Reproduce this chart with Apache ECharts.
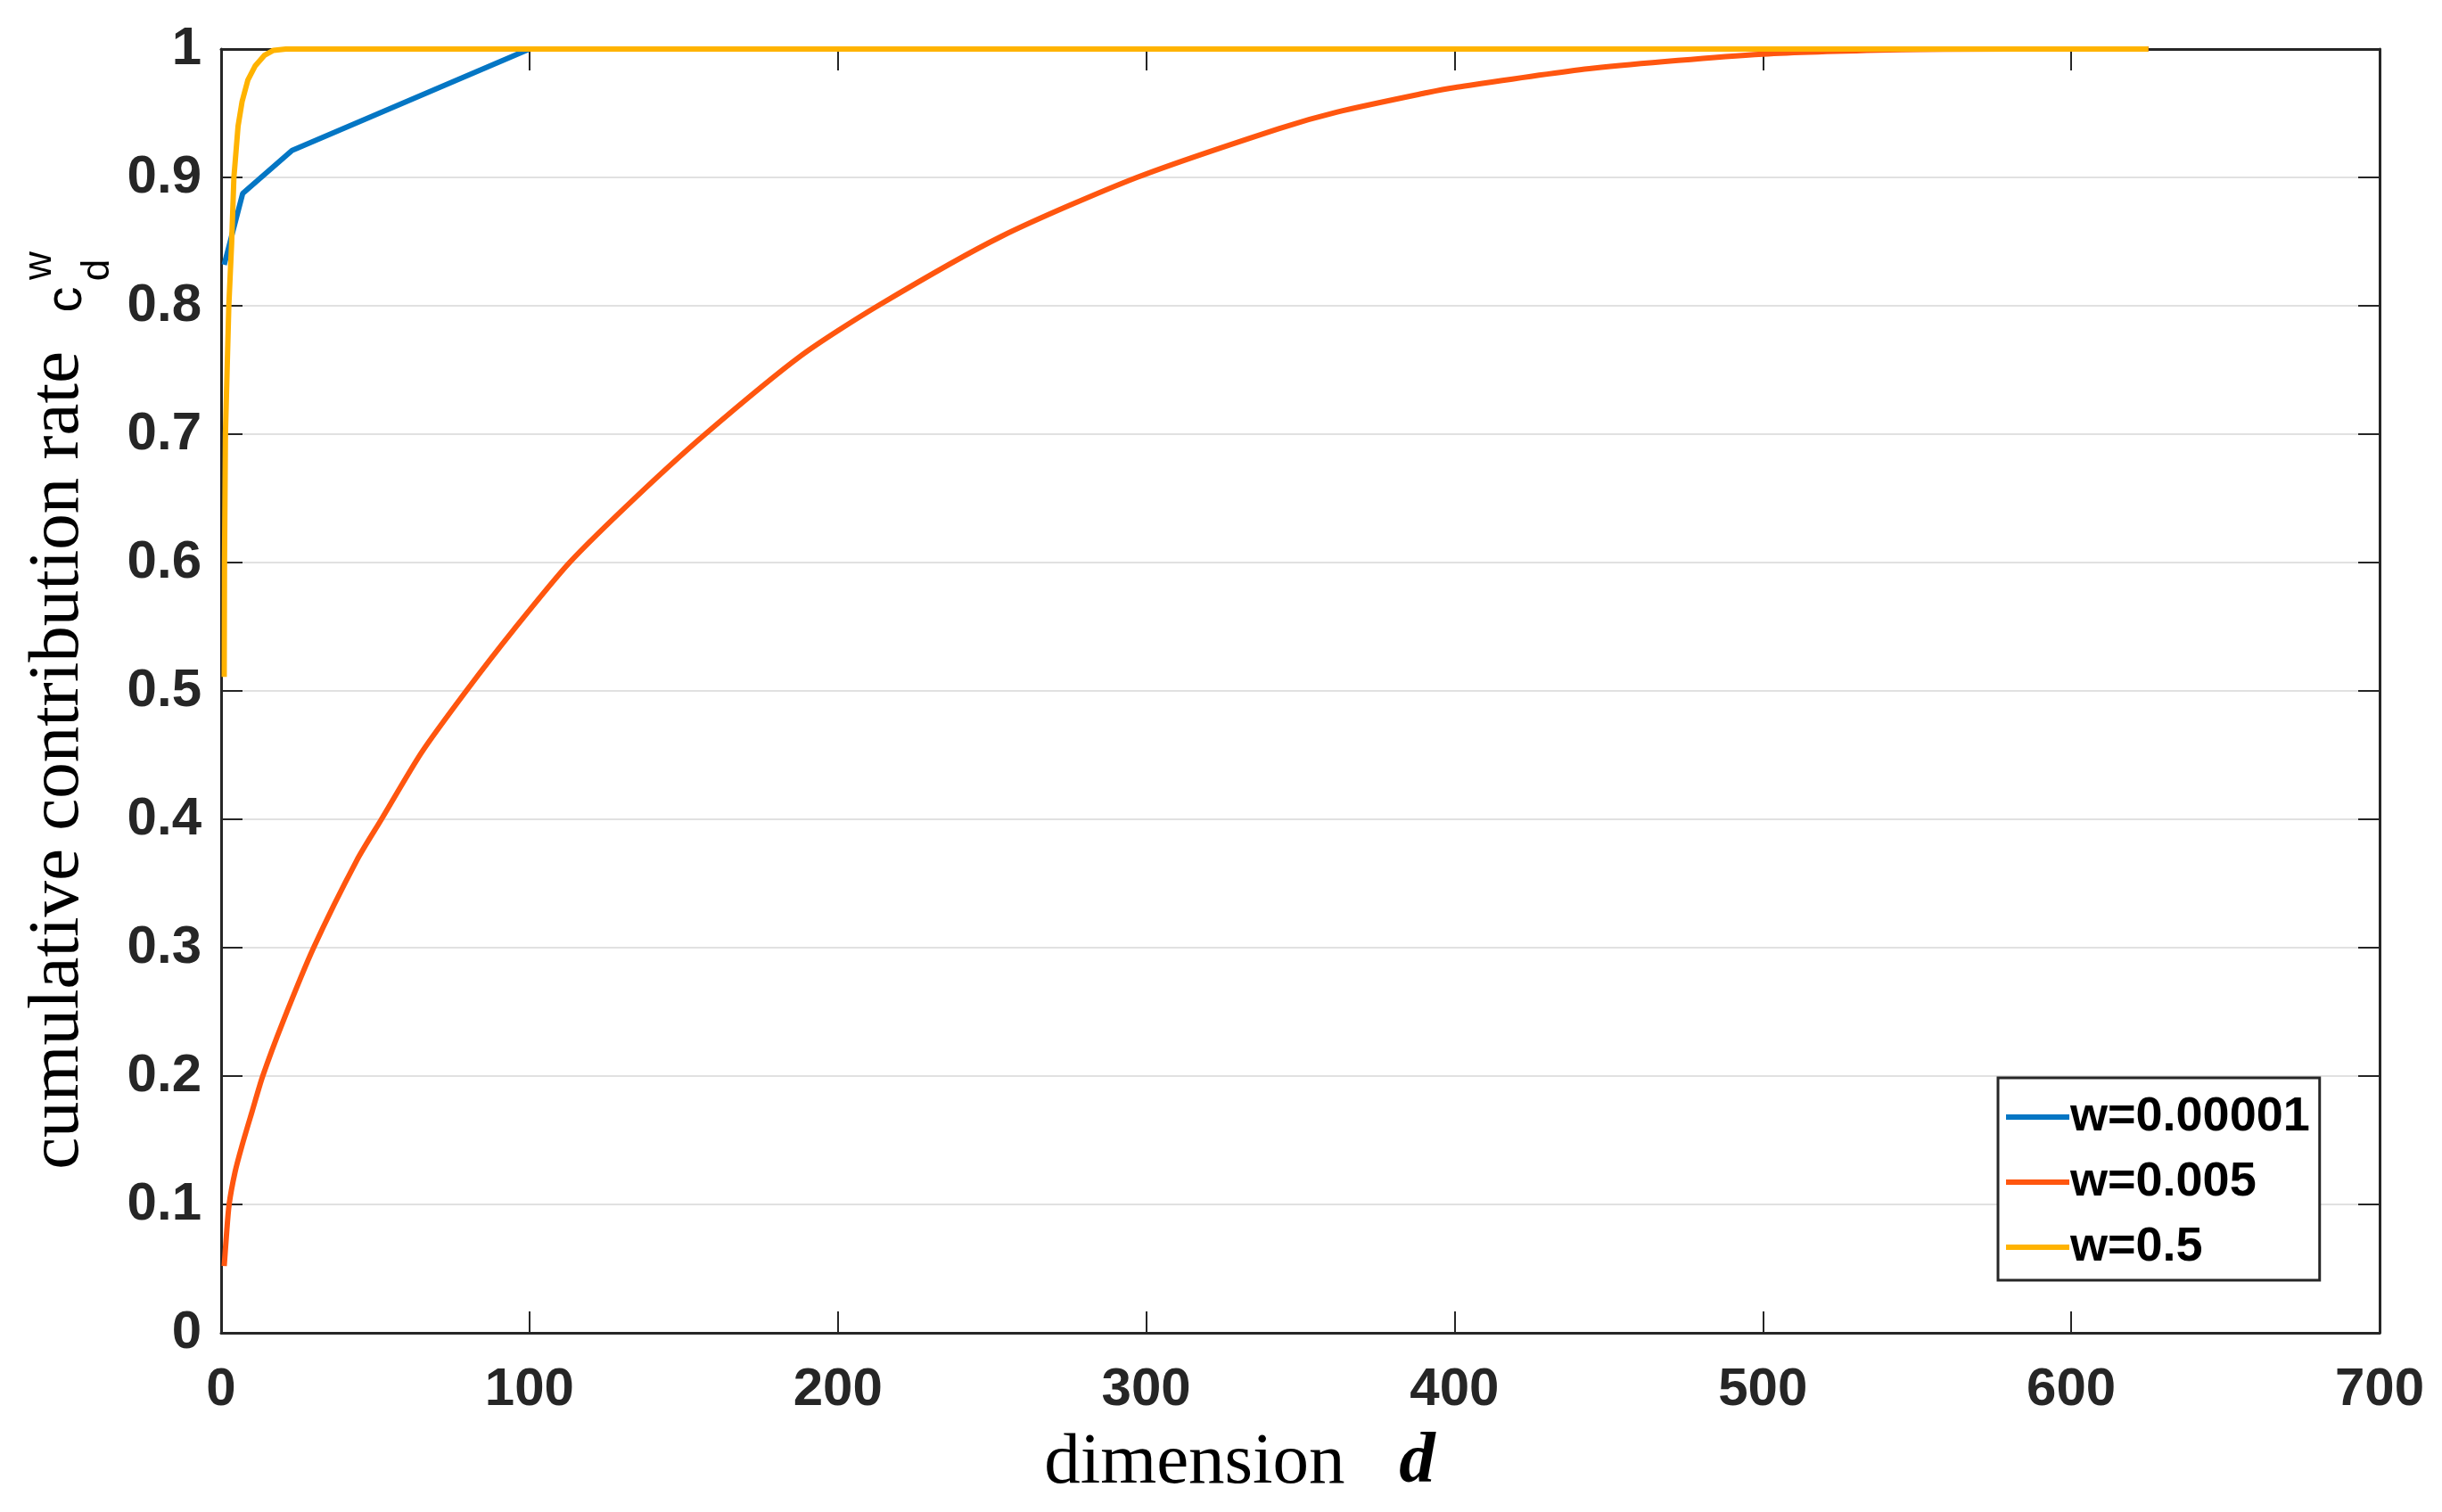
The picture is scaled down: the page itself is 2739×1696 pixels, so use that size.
<!DOCTYPE html>
<html>
<head>
<meta charset="utf-8">
<script src="https://cdn.jsdelivr.net/npm/echarts@6/dist/echarts.min.js"></script>
<style>
html,body{margin:0;padding:0;background:#fff;}
#chart{width:2739px;height:1696px;}
</style>
</head>
<body>
<div id="chart"></div>
<script>
// ---- data ----
const seriesNames = ['w=0.00001', 'w=0.005', 'w=0.5'];

const blueD = [1, 7, 23, 100, 625];
const blueV = [0.832, 0.8875, 0.921, 1.0, 1.0];

const orangeD = [1, 1.7, 2.6, 4.5, 6.8, 10, 13.5, 20, 30, 44, 52, 65, 79.5, 95, 113, 135, 157, 188, 213, 253, 297, 343, 362, 391, 400, 445, 500, 545, 580, 625];
const orangeV = [0.052, 0.075, 0.1, 0.125, 0.146, 0.172, 0.2, 0.242, 0.3, 0.368, 0.4, 0.452, 0.5, 0.548, 0.6, 0.652, 0.7, 0.761, 0.8, 0.854, 0.9, 0.938, 0.951, 0.966, 0.970, 0.985, 0.996, 0.9995, 1.0, 1.0];

const yellowD = [1, 1.1, 1.4, 2.5, 3.4, 4.15, 5.5, 6.8, 8.7, 11.1, 14, 17, 21, 625];
const yellowV = [0.511, 0.6, 0.7, 0.8, 0.848, 0.9, 0.94, 0.959, 0.976, 0.987, 0.995, 0.999, 1.0, 1.0];

const xTickLabels = ['0', '100', '200', '300', '400', '500', '600', '700'];
const yTickLabels = ['0', '0.1', '0.2', '0.3', '0.4', '0.5', '0.6', '0.7', '0.8', '0.9', '1'];

const colors = ['#0476C4', '#FF560F', '#FFB300'];

function pairs(d, v) { return d.map((x, i) => [x, v[i]]); }

const axisColor = '#262626';
const tickFont = { fontFamily: 'Liberation Sans, Arial, sans-serif', fontWeight: 'bold', fontSize: 60, color: '#262626' };

const chart = echarts.init(document.getElementById('chart'), null, { renderer: 'canvas' });

const option = {
  backgroundColor: '#ffffff',
  animation: false,
  grid: { left: 248, top: 55, width: 2421, height: 1440, containLabel: false },
  xAxis: [
    {
      type: 'value', min: 0, max: 700, interval: 100, position: 'bottom',
      axisLine: { show: true, onZero: false, lineStyle: { color: axisColor, width: 3 } },
      axisTick: { show: true, inside: true, length: 24, lineStyle: { color: axisColor, width: 2 } },
      axisLabel: Object.assign({ margin: 34, formatter: (v) => xTickLabels[Math.round(v / 100)] }, tickFont),
      splitLine: { show: false },
      name: 'dimension   {i|d}',
      nameLocation: 'middle',
      nameGap: 106,
      nameTextStyle: {
        fontFamily: 'Liberation Serif, Times New Roman, serif', fontSize: 81, color: '#000',
        padding: [0, 136, 0, 0],
        rich: { i: { fontFamily: 'Liberation Serif, Times New Roman, serif', fontSize: 81, fontStyle: 'italic', fontWeight: 'bold', color: '#000' } }
      }
    },
    {
      type: 'value', min: 0, max: 700, interval: 100, position: 'top',
      axisLine: { show: true, onZero: false, lineStyle: { color: axisColor, width: 3 } },
      axisTick: { show: true, inside: true, length: 24, lineStyle: { color: axisColor, width: 2 } },
      axisLabel: { show: false },
      splitLine: { show: false }
    }
  ],
  yAxis: [
    {
      type: 'value', min: 0, max: 1, interval: 0.1, position: 'left',
      axisLine: { show: true, onZero: false, lineStyle: { color: axisColor, width: 3 } },
      axisTick: { show: true, inside: true, length: 24, lineStyle: { color: axisColor, width: 2 } },
      axisLabel: Object.assign({ margin: 22, formatter: (v) => yTickLabels[Math.round(v * 10)] }, tickFont),
      splitLine: { show: true, lineStyle: { color: '#e1e1e1', width: 2 } },
      name: 'cumulative contribution rate',
      nameLocation: 'middle',
      nameGap: 142,
      nameTextStyle: {
        fontFamily: 'Liberation Serif, Times New Roman, serif', fontSize: 81, color: '#000',
        padding: [0, 156, 0, 0]
      }
    },
    {
      type: 'value', min: 0, max: 1, interval: 0.1, position: 'right',
      axisLine: { show: true, onZero: false, lineStyle: { color: axisColor, width: 3 } },
      axisTick: { show: true, inside: true, length: 24, lineStyle: { color: axisColor, width: 2 } },
      axisLabel: { show: false },
      splitLine: { show: false }
    }
  ],
  legend: {
    show: true,
    orient: 'vertical',
    left: 2241, top: 1209,
    padding: [17, 11, 10, 9],
    itemGap: 19,
    itemWidth: 71, itemHeight: 6,
    icon: 'rect',
    borderColor: '#262626', borderWidth: 3,
    backgroundColor: '#ffffff',
    textStyle: { fontFamily: 'Liberation Sans, Arial, sans-serif', fontWeight: 'bold', fontSize: 54, color: '#000', lineHeight: 54, padding: [0, 0, 0, -4] },
    data: seriesNames
  },
  graphic: [
    { type: 'text', rotation: Math.PI / 2, x: 75, y: 336, z: 100,
      style: { text: 'c', fontFamily: 'Liberation Sans, Arial, sans-serif', fontSize: 58, fill: '#000', align: 'center', verticalAlign: 'middle' } },
    { type: 'text', rotation: Math.PI / 2, x: 110, y: 303, z: 100,
      style: { text: 'd', fontFamily: 'Liberation Sans, Arial, sans-serif', fontSize: 44, fill: '#000', align: 'center', verticalAlign: 'middle' } },
    { type: 'text', rotation: Math.PI / 2, x: 45, y: 298, z: 100,
      style: { text: 'w', fontFamily: 'Liberation Sans, Arial, sans-serif', fontSize: 44, fill: '#000', align: 'center', verticalAlign: 'middle' } }
  ],
  series: [
    { name: seriesNames[0], type: 'line', data: pairs(blueD, blueV), showSymbol: false, symbol: 'none', z: 2,
      lineStyle: { color: colors[0], width: 6 }, itemStyle: { color: colors[0] } },
    { name: seriesNames[1], type: 'line', data: pairs(orangeD, orangeV), showSymbol: false, symbol: 'none', z: 3,
      smooth: 0.25,
      lineStyle: { color: colors[1], width: 6, join: 'round' }, itemStyle: { color: colors[1] } },
    { name: seriesNames[2], type: 'line', data: pairs(yellowD, yellowV), showSymbol: false, symbol: 'none', z: 4,
      lineStyle: { color: colors[2], width: 6, join: 'round' }, itemStyle: { color: colors[2] } }
  ]
};
chart.setOption(option);
</script>
</body>
</html>
